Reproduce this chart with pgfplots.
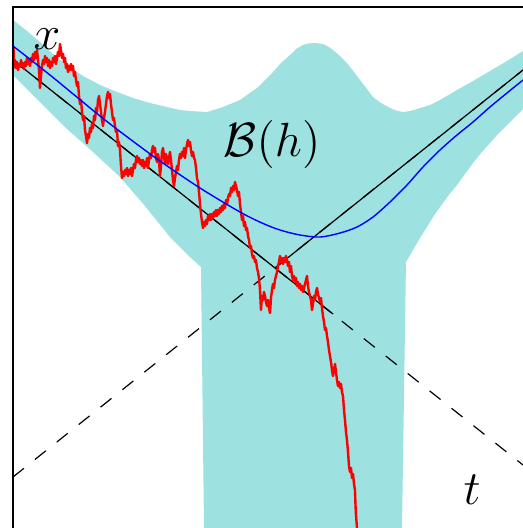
\documentclass[border=0pt]{standalone}
\usepackage{pgfplots}
\pgfplotsset{compat=1.18}
\definecolor{bandc}{RGB}{157,225,225}
\begin{document}
\begin{tikzpicture}
\begin{axis}[x=0.25pt, y=0.25pt, y dir=reverse,
  xmin=13, xmax=523, ymin=7, ymax=528,
  hide axis, clip=false]
% band
\addplot[fill=bandc, draw=none] coordinates {
(13,20)(27,31)(40,42)(53,54)(67,65)(83,76)(100,85)(117,92)(133,98)(150,103)(167,107)(180,110)(190,111)(207,112)(223,107)(240,100)(257,88)(265,80)(273,72)(281,63)(290,55)(296,49)(303,45)(308,43.5)(313,43)(318,43.3)(323,44)(328,46.5)(333,50)(340,56)(347,63)(354,72)(360,80)(367,89)(373,97)(381,103)(390,108)(396,110.5)(403,112)(410,111)(417,109)(430,105)(440,100)(457,90)(473,81)(490,71)(507,61)(523,51)
(523,109)(515,117)(507,125)(498,134)(490,143)(481,153)(473,163)(465,174)(457,185)(448,196)(440,207)(433,217)(427,227)(420,238)(413,250)(406,262)
(402,528)(204,528)(201,267)
(190,257)(170,237)(145,206)(120,177)(93,152)(67,129)(40,102)(13,75)} --cycle;
% dashed full lines
\addplot[black, line width=0.3pt, dash pattern=on 3.5pt off 3.5pt] coordinates {(13,60)(523,465)};
\addplot[black, line width=0.3pt, dash pattern=on 3.5pt off 3.5pt] coordinates {(13,477)(523,70)};
% solid parts
\addplot[black, line width=0.3pt] coordinates {(13,60)(333,314)};
\addplot[black, line width=0.3pt] coordinates {(275,268)(523,70)};
% red path
\addplot[red, line width=0.6pt, line join=round] coordinates {
(13,70)(13.5,48)(14,66)(15,60)(16,68)(17,62)(18,70)(19,64)(20,67)(21,60)(22,66)(23,63)(24,69)(25,62)(26,66)(27,58)(28,64)(29,60)(30,66)(31,58)(32,62)(33,54)(34,60)(35,52)(36,58)(37,50)(38,60)(39,70)(40,88)(41,76)(42,66)(43,60)(44,64)(45,56)(46,62)(47,58)(48,66)(49,60)(50,68)(51,62)(52,66)(53,58)(54,62)(55,56)(56,64)(57,58)(58,52)(59,56)(60,44)(61,50)(62,58)(63,54)(64,62)(65,58)(66,68)(67,64)(68,72)(69,66)(70,70)(71,64)(72,70)(73,66)(74,76)(75,72)(76,80)(77,86)(78,82)(79,96)(80,104)(81,100)(82,112)(83,120)(84,116)(85,130)(86,136)(87,143)(88,134)(89,138)(90,128)(91,132)(92,124)(93,128)(94,116)(95,120)(96,108)(97,112)(98,100)(99,96)(100,104)(101,112)(102,120)(103,126)(104,118)(105,112)(106,104)(107,96)(108,92)(109,98)(110,94)(111,104)(112,112)(113,120)(114,118)(115,126)(116,132)(117,130)(118,146)(119,142)(120,150)(121,166)(122,178)(123,172)(124,176)(125,170)(126,174)(127,168)(128,176)(129,170)(130,174)(131,168)(132,176)(133,170)(134,164)(135,168)(136,160)(137,156)(138,162)(139,158)(140,164)(141,160)(142,166)(143,160)(144,168)(145,162)(146,166)(147,158)(148,168)(149,160)(150,154)(151,158)(152,150)(153,146)(154,152)(155,148)(156,158)(157,162)(158,154)(159,160)(160,176)(161,166)(162,152)(163,148)(164,156)(165,164)(166,154)(167,158)(168,164)(169,158)(170,152)(171,160)(172,170)(173,180)(174,186)(175,178)(176,172)(177,166)(178,170)(179,160)(180,154)(181,158)(182,152)(183,156)(184,148)(185,158)(186,150)(187,144)(188,140)(189,146)(190,142)(191,150)(192,156)(193,152)(194,158)(195,160)(196,168)(197,178)(198,182)(199,192)(200,204)(201,214)(202,222)(203,228)(204,222)(205,226)(206,220)(207,224)(208,216)(209,220)(210,214)(211,220)(212,214)(213,218)(214,212)(215,216)(216,210)(217,216)(218,210)(219,214)(220,208)(221,212)(222,206)(223,210)(224,204)(225,208)(226,200)(227,204)(228,198)(229,194)(230,196)(231,188)(232,192)(233,186)(234,190)(235,182)(236,186)(237,190)(238,196)(239,192)(240,204)(241,212)(242,220)(243,216)(244,226)(245,222)(246,230)(247,228)(248,236)(249,240)(250,248)(251,246)(252,254)(253,258)(254,256)(255,262)(256,260)(257,268)(258,272)(259,278)(260,290)(260.5,300)(261,310)(262,296)(263,300)(264,292)(265,296)(266,302)(267,306)(268,300)(269,308)(270,313)(271,298)(272,290)(273,284)(274,288)(275,280)(276,276)(277,272)(278,266)(279,262)(280,256)(281,262)(282,258)(283,264)(284,258)(285,262)(286,256)(287,260)(288,266)(289,262)(290,272)(291,266)(292,276)(293,280)(294,276)(295,282)(296,278)(297,286)(298,282)(299,288)(300,284)(301,290)(302,286)(303,292)(304,288)(305,284)(306,280)(307,276)(308,286)(309,292)(310,296)(311,300)(312,310)(313,304)(314,296)(315,300)(316,292)(317,288)(318,294)(319,298)(320,302)(321,298)(322,308)(323,316)(324,322)(325,330)(326,328)(327,336)(328,342)(329,350)(330,356)(331,362)(332,370)(333,376)(334,370)(335,364)(336,372)(337,380)(338,386)(339,382)(340,388)(341,384)(342,392)(343,396)(344,410)(345,420)(346,432)(347,440)(348,452)(349,466)(350,472)(351,468)(352,478)(353,474)(354,484)(355,490)(355.5,505)(356,515)(357,528)};
% blue curve
\addplot[blue, line width=0.35pt, smooth] coordinates {
(13,46)(50,75)(100,116)(130,139)(160,161)(200,188)(240,212)(262,223)(280,230)(300,235)(320,237)(340,233)(357,227)(373,217)(390,202)(407,185)(423,167)(440,150)(457,135)(473,122)(490,107)(507,93)(523,80)};
% frame
\addplot[black, line width=0.4pt] coordinates {(13,528)(13,7)(523,7)};
% labels
\node[font=\fontsize{11.5}{13}\selectfont] at (axis cs:47,39) {$x$};
\node[font=\fontsize{11.5}{13}\selectfont] at (axis cs:272,144) {$\mathcal{B}(h)$};
\node[font=\fontsize{11.5}{13}\selectfont] at (axis cs:472,490) {$t$};
\coordinate (BL) at (axis cs:0,528);
\coordinate (TR) at (axis cs:523,0);
\end{axis}
\pgfresetboundingbox
\useasboundingbox (BL) rectangle (TR);
\end{tikzpicture}
\end{document}
